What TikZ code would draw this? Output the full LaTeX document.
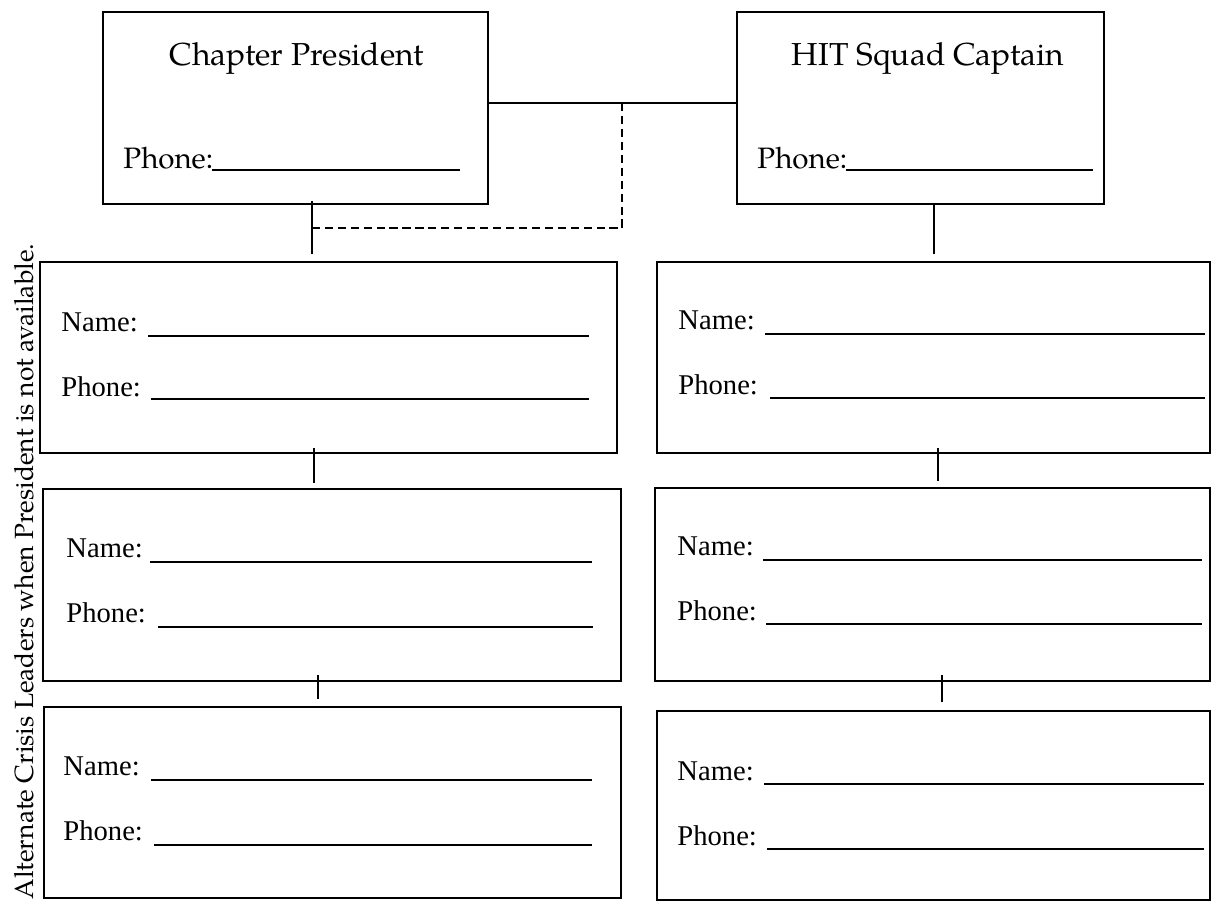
\documentclass[tikz,border=0pt]{standalone}
\usepackage{fontspec}
\usetikzlibrary{fit}
\newfontfamily\palfont{texgyrepagella-regular.otf}
\newfontfamily\timesfont{Liberation Serif}
\tikzset{
  box/.style={draw,line width=0.95pt,inner sep=0pt},
  link/.style={line width=0.75pt},
  dashlink/.style={line width=0.8pt,dash pattern=on 3.6pt off 2.1pt},
  fieldline/.style={line width=0.55pt},
  headtext/.style={font=\palfont\fontsize{14}{17}\selectfont,anchor=base,inner sep=0pt},
  headfield/.style={font=\palfont\fontsize{13}{16}\selectfont,anchor=base west,inner sep=0pt},
  fieldtext/.style={font=\timesfont\fontsize{12.6}{15}\selectfont,anchor=base west,inner sep=0pt}
}
\begin{document}
\begin{tikzpicture}[x=0.4405pt,y=-0.4405pt]
                \useasboundingbox (0,0) rectangle (1225,905);

                % leaders
                \node[box,fit={(103,12) (488,204)}] (pres) {};
                \node[box,fit={(737,12) (1104,204)}] (capt) {};
                \node[headtext] (presTitle) at (297,65) {Chapter President};
                \node[headtext] (captTitle) at (928,65) {HIT Squad Captain};
                \node[headfield] (presPhone) at (123,168) {Phone:};
                \node[headfield] (captPhone) at (757,168) {Phone:};
                \draw[fieldline] (212,170)--(460,170);
                \draw[fieldline] (846,170)--(1093,170);

                % alternate boxes, left column
                \node[box,fit={(40,262) (617,453)}] (l1) {};
                \node[box,fit={(43,489) (621,681)}] (l2) {};
                \node[box,fit={(44,707) (621,898)}] (l3) {};
                % alternate boxes, right column
                \node[box,fit={(657,262) (1210,453)}] (r1) {};
                \node[box,fit={(655,488) (1210,681)}] (r2) {};
                \node[box,fit={(657,711) (1210,900)}] (r3) {};

                % fields
                \node[fieldtext] (l1Name) at (61,331) {Name:};
                \node[fieldtext] (l1Phone) at (61,396) {Phone:};
                \draw[fieldline] (148,336)--(589,336);
                \draw[fieldline] (151,399)--(589,399);
                \node[fieldtext] (l2Name) at (66,557) {Name:};
                \node[fieldtext] (l2Phone) at (66,622) {Phone:};
                \draw[fieldline] (150,562)--(592,562);
                \draw[fieldline] (158,627)--(593,627);
                \node[fieldtext] (l3Name) at (63,775) {Name:};
                \node[fieldtext] (l3Phone) at (63,840) {Phone:};
                \draw[fieldline] (151,780)--(592,780);
                \draw[fieldline] (154,845)--(592,845);
                \node[fieldtext] (r1Name) at (678,329) {Name:};
                \node[fieldtext] (r1Phone) at (678,394) {Phone:};
                \draw[fieldline] (765,334)--(1205,334);
                \draw[fieldline] (770,398)--(1205,398);
                \node[fieldtext] (r2Name) at (677,555) {Name:};
                \node[fieldtext] (r2Phone) at (677,620) {Phone:};
                \draw[fieldline] (763,560)--(1202,560);
                \draw[fieldline] (766,624)--(1202,624);
                \node[fieldtext] (r3Name) at (677,780) {Name:};
                \node[fieldtext] (r3Phone) at (677,845) {Phone:};
                \draw[fieldline] (764,784)--(1204,784);
                \draw[fieldline] (767,849)--(1204,849);

                % connectors
                \coordinate (DashTop) at (622,103);
                \coordinate (PresTick) at (312,228);
                \coordinate (LeftTickA) at (314,448);
                \coordinate (LeftTickB) at (318,675);
                \coordinate (RightTickA) at (938,448);
                \coordinate (RightTickB) at (942,675);
                \draw[link] ([yshift=2.2pt]pres.east)--([yshift=2.2pt]capt.west);
                \draw[dashlink] (DashTop)|-(PresTick);
                \draw[link] ([yshift=1.8pt]pres.south -| PresTick)--([yshift=3pt]l1.north -| PresTick);
                \draw[link] (capt.south -| 934,0)--([yshift=3pt]r1.north -| 934,0);
                \draw[link] (LeftTickA)--([yshift=2.2pt]l2.north -| LeftTickA);
                \draw[link] (LeftTickB)--([yshift=3pt]l3.north -| LeftTickB);
                \draw[link] (RightTickA)--([yshift=2.6pt]r2.north -| RightTickA);
                \draw[link] (RightTickB)--([yshift=3.5pt]r3.north -| RightTickB);

                % side note
                \node[rotate=90,anchor=base east,inner sep=0pt,font=\palfont\fontsize{11.6}{14}\selectfont] (sideNote) at (33,243) {Alternate Crisis Leaders when President is not available.};
\end{tikzpicture}
\end{document}
